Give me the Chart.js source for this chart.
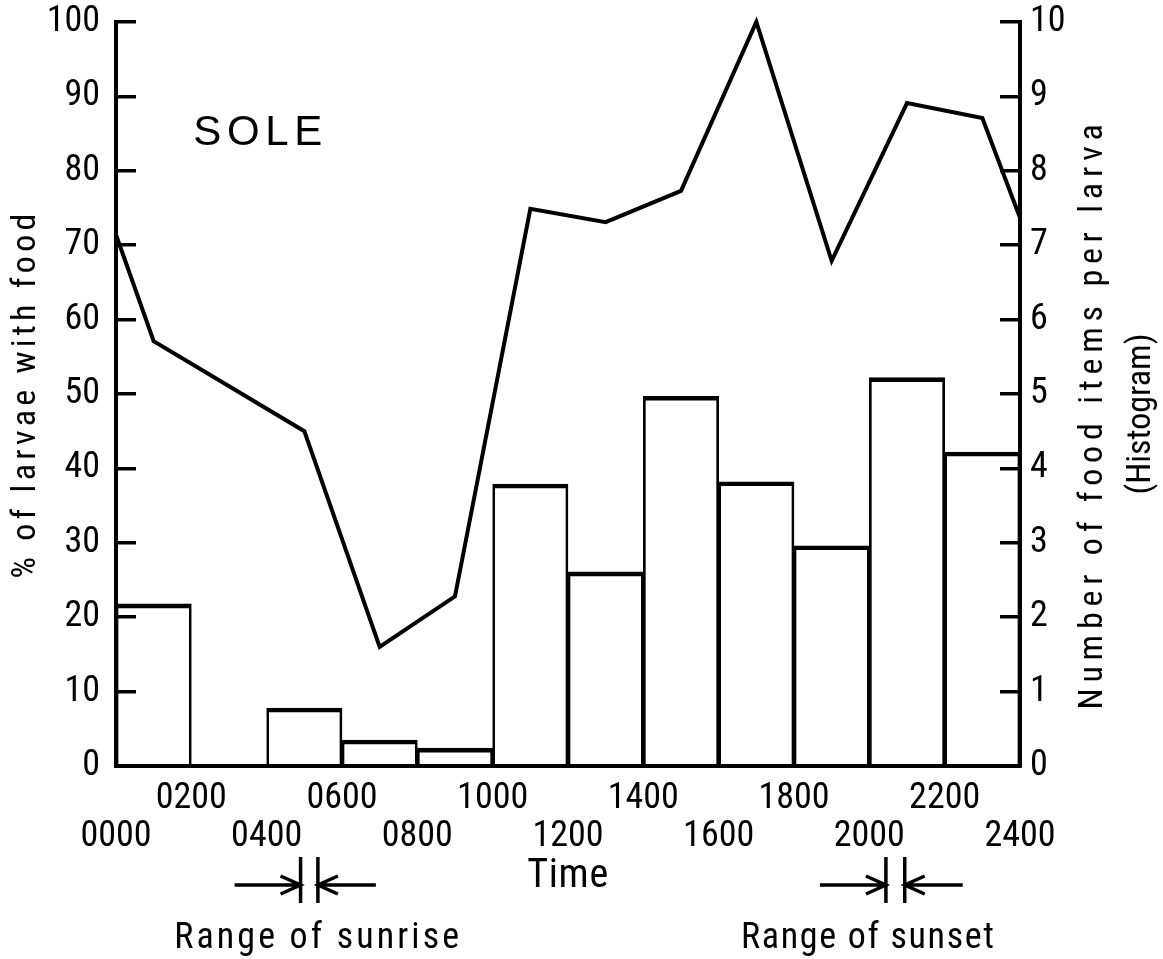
<!DOCTYPE html>
<html><head><meta charset="utf-8">
<script src="https://cdn.jsdelivr.net/npm/chart.js@4.4.1/dist/chart.umd.min.js"></script>
<style>html,body{margin:0;padding:0;background:#fff;} canvas{display:block;}</style>
</head><body>
<canvas id="c" width="1163" height="959"></canvas>
<script>
// ---------------- data ----------------
// histogram: number of food items per larva, 2-hour sampling bins (bin centres, hours)
const binHours = [1, 3, 5, 7, 9, 11, 13, 15, 17, 19, 21, 23];
const foodItemsPerLarva = [2.18, 0, 0.78, 0.35, 0.24, 3.79, 2.61, 4.97, 3.82, 2.96, 5.22, 4.22];
// line: % of larvae with food
const lineHours = [0, 1, 5, 7, 9, 11, 13, 15, 17, 19, 21, 23, 24];
const pctWithFood = [71.4, 57.1, 45.0, 16.0, 22.8, 74.9, 73.1, 77.3, 100, 67.9, 89.1, 87.1, 73.7];
// x tick labels (every 2 h, alternating rows)
const timeTickLabels = ['0000','0200','0400','0600','0800','1000','1200','1400','1600','1800','2000','2200','2400'];
// ranges of sunrise / sunset (hours)
const sunriseRange = [4.90, 5.36];
const sunsetRange = [20.44, 20.94];

// ---------------- styling ----------------
const NARROW = "'Roboto Condensed', 'DejaVu Sans Condensed', 'Liberation Sans Narrow', sans-serif";
const BLACK = '#000';
Chart.defaults.font.family = NARROW;
Chart.defaults.color = BLACK;

// target text lengths (px) to imitate the wide letter spacing of the original lettering
const textLength = {
  '% of larvae with food': 365,
  'Number of food items per larva': 585,
  '(Histogram)': 160,
  'Time': 81,
  'Range of sunrise': 285,
  'Range of sunset': 253,
  'SOLE': 129
};
function setSpacing(ctx, text) {
  ctx.letterSpacing = '0px';
  const target = textLength[text];
  if (!target) return;
  const w = ctx.measureText(text).width;
  const s = Math.max(0, (target - w) / Math.max(1, text.length - 1));
  ctx.letterSpacing = s.toFixed(2) + 'px';
}

const titleCfg = {
  yL: {size: 34, lh: 1.2},
  yR: {size: 34, lh: 48 / 34, shiftY: 20},
  x:  {size: 40, lh: 1.2}
};

const titlePatch = {
  id: 'titlePatch',
  beforeDraw(chart) {
    for (const id of Object.keys(chart.scales)) {
      const s = chart.scales[id];
      if (s.__patched) continue;
      s.__patched = true;
      const orig = s.drawTitle.bind(s);
      s.drawTitle = function() {
        const ctx = this.ctx;
        const cfg = titleCfg[id] || {};
        ctx.save();
        const protoFill = CanvasRenderingContext2D.prototype.fillText;
        ctx.fillText = function(t, x, y, mw) {
          setSpacing(this, t);
          return protoFill.call(this, t, x, y, mw);
        };
        if (id === 'yR') {
          // make the right-hand title read bottom-to-top like the original
          const lh = cfg.size * cfg.lh;
          const padTop = this.options.title.padding.top || 0;
          const x1 = this.right - (lh / 2 + padTop);
          const nLines = this.options.title.text.length;
          const cx = x1 - lh * (nLines - 1) / 2;
          const cy = (this.top + this.bottom) / 2;
          ctx.translate(2 * cx, 2 * cy + cfg.shiftY);
          ctx.rotate(Math.PI);
        }
        orig();
        delete ctx.fillText;
        ctx.restore();
      };
    }
  }
};

function arrow(ctx, x0, x1, y) {
  const dir = Math.sign(x1 - x0);
  ctx.beginPath();
  ctx.moveTo(x0, y); ctx.lineTo(x1, y);
  ctx.moveTo(x1 - dir * 20, y - 9); ctx.lineTo(x1, y); ctx.lineTo(x1 - dir * 20, y + 9);
  ctx.stroke();
}

const annotations = {
  id: 'annotations',
  afterDraw(chart) {
    const ctx = chart.ctx, xs = chart.scales.x, yL = chart.scales.yL;
    ctx.save();
    ctx.fillStyle = BLACK; ctx.strokeStyle = BLACK;
    // species label
    ctx.font = "42px 'Liberation Sans', Arial, sans-serif";
    setSpacing(ctx, 'SOLE');
    ctx.textAlign = 'left'; ctx.textBaseline = 'alphabetic';
    ctx.fillText('SOLE', xs.getPixelForValue(2.05), yL.getPixelForValue(83.5));
    // sunrise / sunset ranges
    const base = xs.top;
    const drawRange = (range, label, labelShift) => {
      const a = xs.getPixelForValue(range[0]);
      const b = xs.getPixelForValue(range[1]);
      const y = base + 119;
      ctx.lineWidth = 3.5; ctx.lineCap = 'butt'; ctx.lineJoin = 'miter';
      ctx.beginPath();
      ctx.moveTo(a, base + 91); ctx.lineTo(a, base + 137);
      ctx.moveTo(b, base + 91); ctx.lineTo(b, base + 137);
      ctx.stroke();
      arrow(ctx, a - 66, a, y);
      arrow(ctx, b + 58, b, y);
      ctx.font = "36px " + NARROW;
      setSpacing(ctx, label);
      ctx.textAlign = 'center'; ctx.textBaseline = 'alphabetic';
      ctx.fillText(label, (a + b) / 2 + labelShift, base + 182);
    };
    drawRange(sunriseRange, 'Range of sunrise', 9);
    drawRange(sunsetRange, 'Range of sunset', -27);
    ctx.restore();
  }
};

const barData = binHours.map((h, i) => ({x: h, y: foodItemsPerLarva[i]}));
const lineData = lineHours.map((h, i) => ({x: h, y: pctWithFood[i]}));

const noPad = (s) => { s.paddingTop = 0; s.paddingBottom = 0; };

new Chart(document.getElementById('c'), {
  type: 'bar',
  data: {
    datasets: [
      {
        type: 'line', label: '% of larvae with food', data: lineData,
        xAxisID: 'x', yAxisID: 'yL', order: 0,
        borderColor: BLACK, borderWidth: 4, pointRadius: 0, tension: 0,
        borderJoinStyle: 'miter', fill: false, clip: false
      },
      {
        type: 'bar', label: 'Number of food items per larva', data: barData,
        xAxisID: 'x', yAxisID: 'yR', order: 1,
        backgroundColor: 'rgba(0,0,0,0)', borderColor: BLACK,
        borderWidth: {top: 4, left: 2, right: 2, bottom: 0}, borderSkipped: 'bottom',
        categoryPercentage: 1, barPercentage: 1
      }
    ]
  },
  options: {
    responsive: false, devicePixelRatio: 1, animation: false,
    layout: {padding: {top: 22, left: 0, right: 0, bottom: 0}},
    plugins: {legend: {display: false}, tooltip: {enabled: false}, title: {display: false}},
    scales: {
      x: {
        type: 'linear', position: 'bottom', min: 0, max: 24, offset: false,
        grid: {display: true, drawOnChartArea: false, drawTicks: false},
        border: {display: true, color: BLACK, width: 4},
        ticks: {
          stepSize: 2, autoSkip: false, maxRotation: 0, minRotation: 0, padding: 14,
          font: {size: 36, lineHeight: 38 / 36},
          callback: (v) => {
            const i = Math.round(v / 2);
            const t = timeTickLabels[i];
            return (i % 2 === 1) ? [t, ''] : ['', t];
          }
        },
        title: {display: true, text: 'Time', font: {size: titleCfg.x.size, lineHeight: titleCfg.x.lh},
                padding: {top: 0, bottom: 58}},
        afterFit: (s) => { s.height = 193; }
      },
      yL: {
        type: 'linear', position: 'left', min: 0, max: 100,
        grid: {drawOnChartArea: false, drawTicks: true, tickLength: -20, lineWidth: 3.5, color: BLACK},
        border: {display: true, color: BLACK, width: 4},
        ticks: {stepSize: 10, padding: 36, font: {size: 36, lineHeight: 1}},
        title: {display: true, text: '% of larvae with food',
                font: {size: titleCfg.yL.size, lineHeight: titleCfg.yL.lh}, padding: {top: 6, bottom: 0}},
        afterFit: (s) => { s.width = 116; noPad(s); }
      },
      yR: {
        type: 'linear', position: 'right', min: 0, max: 10,
        grid: {drawOnChartArea: false, drawTicks: true, tickLength: -20, lineWidth: 3.5, color: BLACK},
        border: {display: true, color: BLACK, width: 4},
        ticks: {stepSize: 1, padding: 30, font: {size: 36, lineHeight: 1}},
        title: {display: true, text: ['Number of food items per larva', '(Histogram)'],
                font: {size: titleCfg.yR.size, lineHeight: titleCfg.yR.lh}, padding: {top: -2, bottom: 0}},
        afterFit: (s) => { s.width = 143; noPad(s); }
      }
    }
  },
  plugins: [titlePatch, annotations]
});
</script>
</body></html>
